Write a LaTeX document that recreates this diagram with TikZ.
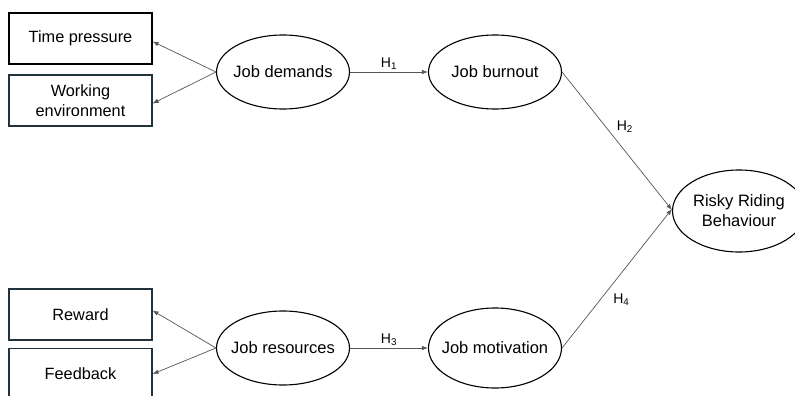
\documentclass[tikz,border=0pt]{standalone}
\usepackage{fontspec}
\setmainfont{Liberation Sans}
\usetikzlibrary{shapes.geometric,arrows.meta}
\definecolor{boxedge}{HTML}{22323C}
\definecolor{linkgray}{HTML}{555555}
\begin{document}
\begin{tikzpicture}[x=1pt,y=-1pt,
  indicator/.style={draw=boxedge,line width=1.1pt,minimum width=143pt,minimum height=51pt,
    inner sep=0pt,align=center,font=\fontsize{16.3}{20}\selectfont},
  construct/.style={ellipse,draw=black,line width=1.1pt,minimum width=133pt,minimum height=74pt,
    inner xsep=-8pt,inner ysep=0pt,align=center,font=\fontsize{16.5}{20}\selectfont},
  link/.style={draw=linkgray,line width=0.7pt,-{Latex[length=6pt,width=4.5pt]}},
  hyp/.style={font=\fontsize{14}{16}\selectfont,inner sep=1pt}]
\useasboundingbox (0,0) rectangle (795,396);

% measured indicators
\node[indicator,draw=black] (tp) at (80.5,38.5) {Time pressure};
\node[indicator] (we) at (80.5,100.5) {Working\\environment};
\node[indicator] (rw) at (80.5,314.5) {Reward};
\node[indicator] (fb) at (80.5,374) {Feedback};

% latent constructs
\node[construct] (jd) at (283,72) {Job demands};
\node[construct] (jb) at (495,72) {Job burnout};
\node[construct] (jr) at (283,348) {Job resources};
\node[construct,minimum height=80pt] (jm) at (495,348) {Job motivation};
\node[construct,minimum height=82pt] (rr) at (739,211) {Risky Riding\\Behaviour};

% indicator links
\draw[link] (jd.west) -- ([yshift=-3pt]tp.east);
\draw[link] (jd.west) -- ([yshift=-3pt]we.east);
\draw[link] (jr.west) -- ([yshift=4pt]rw.east);
\draw[link] (jr.west) -- (fb.east);

% hypothesised paths
\draw[link] (jd.east) -- node[hyp,above=1pt] {H\textsubscript{1}} (jb.west);
\draw[link] (jr.east) -- node[hyp,above=1pt] {H\textsubscript{3}} (jm.west);
\draw[link] (jb.east) -- node[hyp,pos=0.45,anchor=south west,xshift=4pt] {H\textsubscript{2}} ([yshift=1pt]rr.west);
\draw[link] (jm.east) -- node[hyp,pos=0.4,anchor=north west,xshift=6pt] {H\textsubscript{4}} ([yshift=2pt]rr.west);
\end{tikzpicture}
\end{document}
